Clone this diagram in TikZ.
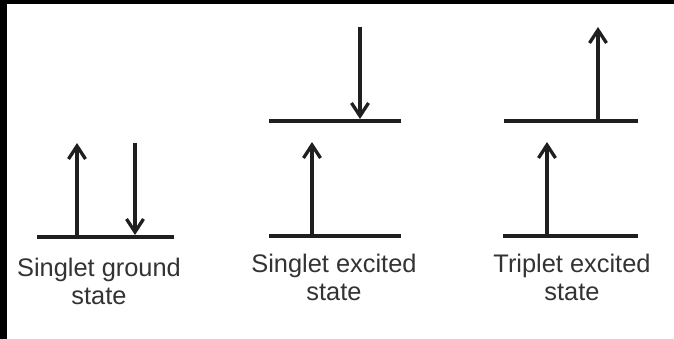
\documentclass[tikz,border=0pt]{standalone}
\usepackage{fontspec}
\setmainfont{Liberation Sans}
\usetikzlibrary{arrows.meta}
\begin{document}
\begin{tikzpicture}[x=1pt,y=-1pt,
  level/.style={line width=4pt, black!88},
  spin/.style={line width=3.3pt, black!88, -{Straight Barb[length=13pt,width=17pt,line width=3.3pt]}},
  lbl/.style={font=\fontsize{25.4}{28}\selectfont, align=center, text=black!80, inner sep=0pt, anchor=north}]
\useasboundingbox (0,0) rectangle (674,339);
\fill[white] (0,0) rectangle (674,339);
\fill[black] (0,0) rectangle (674,4);
\fill[black] (0,0) rectangle (7,339);
% group 1: singlet ground state
\coordinate (g1L) at (37,237); \coordinate (g1R) at (174,237);
\draw[level] (g1L) -- (g1R);
\coordinate (g1a) at (77,237); \coordinate (g1at) at (77,143);
\draw[spin] (g1a) -- (g1at);
\coordinate (g1b) at (135,143); \coordinate (g1bt) at (135,235);
\draw[spin] (g1b) -- (g1bt);
\node[lbl] (t1) at (99,257.5) {Singlet ground\\state};
% group 2: singlet excited state
\coordinate (g2L) at (269,236); \coordinate (g2R) at (401,236);
\coordinate (g2UL) at (269,121); \coordinate (g2UR) at (401,121);
\draw[level] (g2L) -- (g2R);
\draw[level] (g2UL) -- (g2UR);
\coordinate (g2a) at (312,236); \coordinate (g2at) at (312,142);
\draw[spin] (g2a) -- (g2at);
\coordinate (g2b) at (360,27); \coordinate (g2bt) at (360,119);
\draw[spin] (g2b) -- (g2bt);
\node[lbl] (t2) at (334,253.5) {Singlet excited\\state};
% group 3: triplet excited state
\coordinate (g3L) at (503,236); \coordinate (g3R) at (638,236);
\coordinate (g3UL) at (504,121); \coordinate (g3UR) at (638,121);
\draw[level] (g3L) -- (g3R);
\draw[level] (g3UL) -- (g3UR);
\coordinate (g3a) at (547,236); \coordinate (g3at) at (547,142);
\draw[spin] (g3a) -- (g3at);
\coordinate (g3b) at (598,121); \coordinate (g3bt) at (598,27);
\draw[spin] (g3b) -- (g3bt);
\node[lbl] (t3) at (572,253.5) {Triplet excited\\state};
\end{tikzpicture}
\end{document}
